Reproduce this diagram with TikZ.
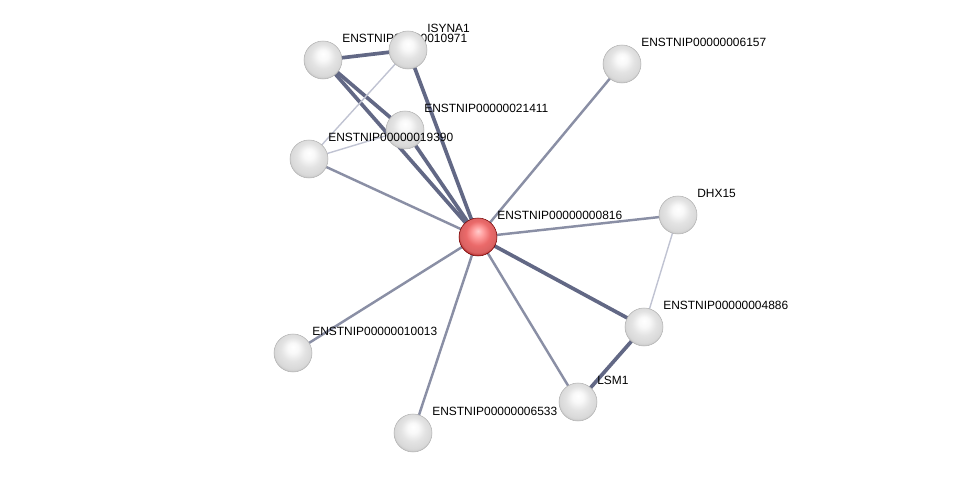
\documentclass[tikz,border=0pt]{standalone}
\usepackage{fontspec}
\setmainfont{Liberation Sans}
\usepackage{tikz}
\usetikzlibrary{positioning}
\definecolor{edgemid}{RGB}{138,143,165}
\definecolor{edgedark}{RGB}{98,104,133}
\definecolor{edgelight}{RGB}{192,195,210}
\pgfdeclareradialshading{protball}{\pgfpoint{0bp}{8bp}}{%
    color(0bp)=(white); color(7bp)=(white!95!gray); color(16bp)=(white!78!gray);
    color(24bp)=(white!70!gray); color(29bp)=(white!48!gray); color(38bp)=(white!30!gray)}
\pgfdeclareradialshading{seedball}{\pgfpoint{0bp}{8bp}}{%
    color(0bp)=(red!20!white); color(7bp)=(red!38!white); color(16bp)=(red!55!white!92!black);
    color(24bp)=(red!55!white!85!black); color(29bp)=(red!60!black); color(38bp)=(red!40!black)}
\tikzset{
    protnode/.style={circle, minimum size=0.76cm, inner sep=0pt, shading=protball, draw=gray!60, line width=0.3pt},
    seednode/.style={circle, minimum size=0.76cm, inner sep=0pt, shading=seedball, draw=red!45!black, line width=0.3pt},
    protlabel/.style={anchor=west, inner sep=0pt, font=\fontsize{6.8pt}{8pt}\selectfont},
    linkmid/.style={draw=edgemid, line width=1.4pt},
    linkdark/.style={draw=edgedark, line width=2.1pt},
    linklight/.style={draw=edgelight, line width=0.8pt}
}

\begin{document}
\begin{tikzpicture}[x=0.02cm, y=-0.02cm]
    \useasboundingbox (0,0) rectangle (975,479);
    % node positions
    \coordinate (p816) at (478,237);
    \coordinate (p10971) at (323,60);
    \coordinate (pisyna) at (408,50);
    \coordinate (p21411) at (405,130);
    \coordinate (p19390) at (309,159);
    \coordinate (p6157) at (622,64);
    \coordinate (pdhx) at (678,215);
    \coordinate (p4886) at (644,327);
    \coordinate (plsm) at (578,402);
    \coordinate (p6533) at (413,433);
    \coordinate (p10013) at (293,353);

    % edges
    \draw[linkdark] (p816) -- (pisyna);
    \draw[linkdark] (p816) -- (p10971);
    \draw[linkdark] (p816) -- (p21411);
    \draw[linkdark] (p10971) -- (p21411);
    \draw[linkdark] (p10971) -- (pisyna);
    \draw[linklight] (pisyna) -- (p19390);
    \draw[linklight] (p19390) -- (p21411);
    \draw[linkmid] (p816) -- (p19390);
    \draw[linkmid] (p816) -- (p6157);
    \draw[linkmid] (p816) -- (pdhx);
    \draw[linklight] (pdhx) -- (p4886);
    \draw[linkdark] (p816) -- (p4886);
    \draw[linkdark] (p4886) -- (plsm);
    \draw[linkmid] (p816) -- (plsm);
    \draw[linkmid] (p816) -- (p6533);
    \draw[linkmid] (p816) -- (p10013);

    % nodes and labels
    \node[protnode] (n10971) at (p10971) {};
    \node[protlabel] at ([shift={(19,-22)}]n10971.center) {ENSTNIP00000010971};
    \node[protnode] (nisyna) at (pisyna) {};
    \node[protlabel] at ([shift={(19,-22)}]nisyna.center) {ISYNA1};
    \node[protnode] (n21411) at (p21411) {};
    \node[protlabel] at ([shift={(19,-22)}]n21411.center) {ENSTNIP00000021411};
    \node[protnode] (n19390) at (p19390) {};
    \node[protlabel] at ([shift={(19,-22)}]n19390.center) {ENSTNIP00000019390};
    \node[protnode] (n6157) at (p6157) {};
    \node[protlabel] at ([shift={(19,-22)}]n6157.center) {ENSTNIP00000006157};
    \node[protnode] (ndhx) at (pdhx) {};
    \node[protlabel] at ([shift={(19,-22)}]ndhx.center) {DHX15};
    \node[protnode] (n4886) at (p4886) {};
    \node[protlabel] at ([shift={(19,-22)}]n4886.center) {ENSTNIP00000004886};
    \node[protnode] (nlsm) at (plsm) {};
    \node[protlabel] at ([shift={(19,-22)}]nlsm.center) {LSM1};
    \node[protnode] (n6533) at (p6533) {};
    \node[protlabel] at ([shift={(19,-22)}]n6533.center) {ENSTNIP00000006533};
    \node[protnode] (n10013) at (p10013) {};
    \node[protlabel] at ([shift={(19,-22)}]n10013.center) {ENSTNIP00000010013};
    \node[seednode] (n816) at (p816) {};
    \node[protlabel] at ([shift={(19,-22)}]n816.center) {ENSTNIP00000000816};
\end{tikzpicture}
\end{document}
